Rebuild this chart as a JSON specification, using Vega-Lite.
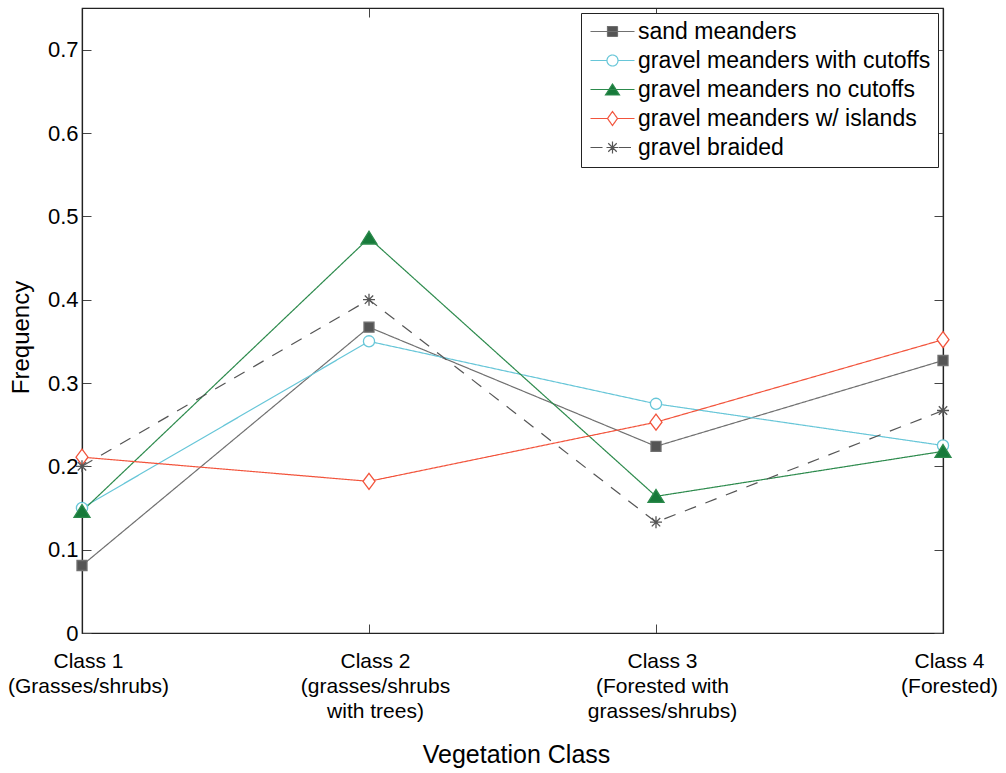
{
  "$schema": "https://vega.github.io/schema/vega-lite/v6.json",
  "width": 861,
  "height": 625,
  "autosize": "none",
  "padding": {"left": 82, "top": 8, "right": 63, "bottom": 140},
  "background": "white",
  "config": {
    "font": "Liberation Sans",
    "view": {"stroke": "#222222", "strokeWidth": 1.2}
  },
  "data": {
    "values": [
      {"series": "sand meanders", "vclass": "Class 1", "freq": 0.081},
      {"series": "sand meanders", "vclass": "Class 2", "freq": 0.367},
      {"series": "sand meanders", "vclass": "Class 3", "freq": 0.224},
      {"series": "sand meanders", "vclass": "Class 4", "freq": 0.327},
      {"series": "gravel meanders with cutoffs", "vclass": "Class 1", "freq": 0.150},
      {"series": "gravel meanders with cutoffs", "vclass": "Class 2", "freq": 0.350},
      {"series": "gravel meanders with cutoffs", "vclass": "Class 3", "freq": 0.275},
      {"series": "gravel meanders with cutoffs", "vclass": "Class 4", "freq": 0.225},
      {"series": "gravel meanders no cutoffs", "vclass": "Class 1", "freq": 0.146},
      {"series": "gravel meanders no cutoffs", "vclass": "Class 2", "freq": 0.474},
      {"series": "gravel meanders no cutoffs", "vclass": "Class 3", "freq": 0.164},
      {"series": "gravel meanders no cutoffs", "vclass": "Class 4", "freq": 0.218},
      {"series": "gravel meanders w/ islands", "vclass": "Class 1", "freq": 0.211},
      {"series": "gravel meanders w/ islands", "vclass": "Class 2", "freq": 0.182},
      {"series": "gravel meanders w/ islands", "vclass": "Class 3", "freq": 0.253},
      {"series": "gravel meanders w/ islands", "vclass": "Class 4", "freq": 0.352},
      {"series": "gravel braided", "vclass": "Class 1", "freq": 0.200},
      {"series": "gravel braided", "vclass": "Class 2", "freq": 0.400},
      {"series": "gravel braided", "vclass": "Class 3", "freq": 0.133},
      {"series": "gravel braided", "vclass": "Class 4", "freq": 0.267}
    ]
  },
  "layer": [
    {
      "mark": {"type": "line", "strokeWidth": 1.2},
      "encoding": {
        "x": {
          "field": "vclass", "type": "ordinal",
          "sort": ["Class 1", "Class 2", "Class 3", "Class 4"],
          "scale": {"type": "point", "padding": 0},
          "axis": {
            "orient": "bottom",
            "title": "Vegetation Class",
            "titleFontSize": 25, "titleFontWeight": "normal", "titleColor": "black",
            "titleX": 434, "titleY": 129, "titleBaseline": "alphabetic",
            "labelExpr": "datum.value == 'Class 1' ? ['Class 1', '(Grasses/shrubs)'] : datum.value == 'Class 2' ? ['Class 2', '(grasses/shrubs', 'with trees)'] : datum.value == 'Class 3' ? ['Class 3', '(Forested with', 'grasses/shrubs)'] : ['Class 4', '(Forested)']",
            "labelAngle": 0, "labelFontSize": 21, "labelColor": "black",
            "labelLineHeight": 25, "labelBaseline": "top", "labelOffset": 6,
            "labelPadding": 26, "labelFlush": false, "labelOverlap": false,
            "tickSize": -9, "tickColor": "#444444", "domainColor": "#222222", "domainWidth": 1.2,
            "grid": false
          }
        },
        "y": {
          "field": "freq", "type": "quantitative",
          "scale": {"domain": [0, 0.75], "nice": false},
          "axis": {
            "orient": "left",
            "title": "Frequency",
            "titleFontSize": 24, "titleFontWeight": "normal", "titleColor": "black",
            "titleAngle": -90, "titleX": -54, "titleY": 329, "titleBaseline": "alphabetic",
            "values": [0, 0.1, 0.2, 0.3, 0.4, 0.5, 0.6, 0.7],
            "format": ".1~f",
            "labelFontSize": 22, "labelColor": "black", "labelPadding": 13,
            "tickSize": -9, "tickColor": "#444444", "domainColor": "#222222", "domainWidth": 1.2,
            "grid": false
          }
        },
        "stroke": {
          "field": "series", "type": "nominal",
          "scale": {
            "domain": ["sand meanders", "gravel meanders with cutoffs", "gravel meanders no cutoffs", "gravel meanders w/ islands", "gravel braided"],
            "range": ["#707070", "#67c6d8", "#2c8a4c", "#f2543c", "#555555"]
          },
          "legend": {
            "title": null,
            "orient": "top-right", "offset": 5,
            "fillColor": "white", "strokeColor": "#222222", "padding": 7,
            "labelFontSize": 23, "labelColor": "black", "labelOffset": 14, "labelLimit": 500,
            "symbolSize": 100, "symbolOffset": 13, "symbolStrokeWidth": 1.2, "rowPadding": 5,
            "encode": {
              "symbols": {
                "update": {
                  "shape": {"signal": "datum.value === 'sand meanders' ? 'M-4.4,0H4.4M-1,-1H1V1H-1Z' : datum.value === 'gravel meanders with cutoffs' ? 'M-4.4,0H-1.1M1.1,0H4.4M-1.1,0A1.1,1.1 0 1,0 1.1,0A1.1,1.1 0 1,0 -1.1,0Z' : datum.value === 'gravel meanders no cutoffs' ? 'M-4.4,0H4.4M-1.4,1.1L0,-1.1L1.4,1.1Z' : datum.value === 'gravel meanders w/ islands' ? 'M-4.4,0H-1M1,0H4.4M0,-1.4L1,0L0,1.4L-1,0Z' : 'M-4.4,0H-1.3M1.3,0H4.4M-1.2,0H1.2M0,-1.2V1.2M-0.85,-0.85L0.85,0.85M-0.85,0.85L0.85,-0.85'"},
                  "fill": {"signal": "datum.value === 'sand meanders' ? '#555555' : datum.value === 'gravel meanders no cutoffs' ? '#177a3a' : 'white'"},
                  "stroke": {"signal": "datum.value === 'sand meanders' ? '#6a6a6a' : datum.value === 'gravel meanders with cutoffs' ? '#67c6d8' : datum.value === 'gravel meanders no cutoffs' ? '#2c8a4c' : datum.value === 'gravel meanders w/ islands' ? '#f2543c' : '#8a8a8a'"},
                  "strokeWidth": {"value": 1.2},
                  "strokeDash": {"value": [1, 0]},
                  "opacity": {"value": 1}
                }
              }
            }
          }
        },
        "strokeDash": {
          "field": "series", "type": "nominal",
          "scale": {
            "domain": ["sand meanders", "gravel meanders with cutoffs", "gravel meanders no cutoffs", "gravel meanders w/ islands", "gravel braided"],
            "range": [[1, 0], [1, 0], [1, 0], [1, 0], [12, 10]]
          },
          "legend": null
        }
      }
    },
    {
      "transform": [{"filter": "datum.series === 'sand meanders'"}],
      "mark": {"type": "point", "shape": "square", "size": 100, "filled": true, "fill": "#555555", "opacity": 1, "strokeWidth": 1.3},
      "encoding": {
        "x": {
          "field": "vclass", "type": "ordinal",
          "sort": ["Class 1", "Class 2", "Class 3", "Class 4"],
          "axis": {
            "orient": "top", "title": null, "labels": false,
            "tickSize": -9, "tickColor": "#444444", "domainColor": "#222222", "domainWidth": 1.2,
            "grid": false
          }
        },
        "y": {
          "field": "freq", "type": "quantitative",
          "axis": {
            "orient": "right", "title": null, "labels": false,
            "values": [0, 0.1, 0.2, 0.3, 0.4, 0.5, 0.6, 0.7],
            "tickSize": -9, "tickColor": "#444444", "domainColor": "#222222", "domainWidth": 1.2,
            "grid": false
          }
        },
        "stroke": {"field": "series", "type": "nominal"}
      }
    },
    {
      "transform": [{"filter": "datum.series === 'gravel meanders with cutoffs'"}],
      "mark": {"type": "point", "shape": "circle", "size": 125, "filled": true, "fill": "#ffffff", "opacity": 1, "strokeWidth": 1.3},
      "encoding": {
        "x": {"field": "vclass", "type": "ordinal", "sort": ["Class 1", "Class 2", "Class 3", "Class 4"], "axis": null},
        "y": {"field": "freq", "type": "quantitative", "axis": null},
        "stroke": {"field": "series", "type": "nominal"}
      }
    },
    {
      "transform": [{"filter": "datum.series === 'gravel meanders no cutoffs'"}],
      "mark": {"type": "point", "shape": "M-1,0.75L0,-0.85L1,0.75Z", "size": 256, "filled": true, "fill": "#177a3a", "opacity": 1, "strokeWidth": 1.3},
      "encoding": {
        "x": {"field": "vclass", "type": "ordinal", "sort": ["Class 1", "Class 2", "Class 3", "Class 4"], "axis": null},
        "y": {"field": "freq", "type": "quantitative", "axis": null},
        "stroke": {"field": "series", "type": "nominal"}
      }
    },
    {
      "transform": [{"filter": "datum.series === 'gravel meanders w/ islands'"}],
      "mark": {"type": "point", "shape": "M0,-1L0.75,0L0,1L-0.75,0Z", "size": 256, "filled": true, "fill": "#ffffff", "opacity": 1, "strokeWidth": 1.3},
      "encoding": {
        "x": {"field": "vclass", "type": "ordinal", "sort": ["Class 1", "Class 2", "Class 3", "Class 4"], "axis": null},
        "y": {"field": "freq", "type": "quantitative", "axis": null},
        "stroke": {"field": "series", "type": "nominal"}
      }
    },
    {
      "transform": [{"filter": "datum.series === 'gravel braided'"}],
      "mark": {"type": "point", "shape": "M-1,0H1M0,-1V1M-0.7,-0.7L0.7,0.7M-0.7,0.7L0.7,-0.7", "size": 144, "filled": false, "opacity": 1, "strokeWidth": 1.3},
      "encoding": {
        "x": {"field": "vclass", "type": "ordinal", "sort": ["Class 1", "Class 2", "Class 3", "Class 4"], "axis": null},
        "y": {"field": "freq", "type": "quantitative", "axis": null},
        "stroke": {"field": "series", "type": "nominal"}
      }
    }
  ],
  "resolve": {"axis": {"x": "independent", "y": "independent"}}
}
